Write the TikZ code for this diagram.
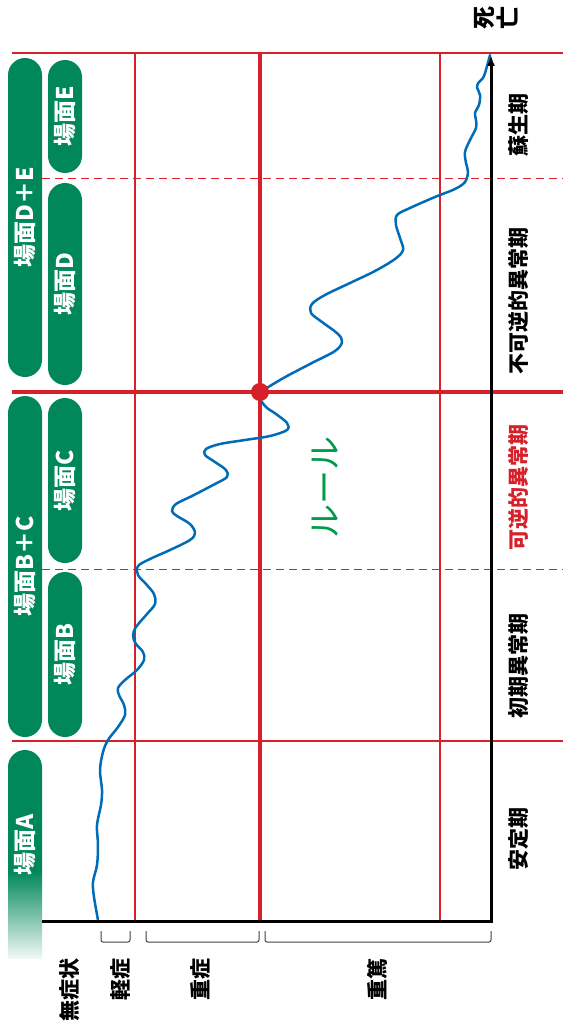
\documentclass[tikz,border=0pt]{standalone}
\usepackage{fontspec}
\setmainfont{Noto Sans CJK JP}
\usetikzlibrary{arrows.meta}
\definecolor{sgreen}{RGB}{0,135,90}
\definecolor{gred}{RGB}{214,32,42}
\definecolor{cblue}{RGB}{0,108,184}
\definecolor{rgreen}{RGB}{0,155,72}
\begin{document}
\begin{tikzpicture}[x=1pt,y=-1pt,
  pill/.style={fill=sgreen, rounded corners=17pt, minimum height=34pt, inner sep=0pt, text=white, font=\fontsize{23}{23}\selectfont\bfseries, rotate=90},
  lab/.style={rotate=90, font=\fontsize{21}{21}\selectfont\bfseries, inner sep=0pt},
  thinr/.style={gred, line width=1.2pt},
  thickr/.style={gred, line width=4pt},
  dashr/.style={gred, line width=1pt, dash pattern=on 8pt off 5pt},
  brk/.style={draw=black!75, line width=1pt, rounded corners=2pt}]
\useasboundingbox (0,0) rectangle (563,1027);
\fill[white] (0,0) rectangle (563,1027);
% grid
\draw[thinr] (12,53) -- (563,53);
\draw[dashr] (42,179) -- (563,179);
\draw[dashr] (42,569) -- (563,569);
\draw[thinr] (12,741) -- (563,741);
\draw[thinr] (135,53) -- (135,921);
\draw[thinr] (440,53) -- (440,921);
\draw[thickr] (260,53) -- (260,921);
\draw[thickr] (12,392) -- (563,392);
% pills
\node[pill, minimum width=319pt] (de) at (25,217.5) {場面D＋E};
\node[pill, minimum width=113pt] (e) at (65,116.5) {場面E};
\node[pill, minimum width=202pt] (d) at (65,284) {場面D};
\node[pill, minimum width=341pt] (bc) at (25,566.5) {場面B＋C};
\node[pill, minimum width=165pt] (c) at (65,480.5) {場面C};
\node[pill, minimum width=165pt] (b) at (65,654.5) {場面B};
\fill[sgreen] (8,872) [rounded corners=17pt] -- (8,750) -- (42,750) [sharp corners] -- (42,872) -- cycle;
\shade[top color=sgreen, bottom color=sgreen!6] (8,871) rectangle (42,958);
\node[text=white, font=\fontsize{23}{23}\selectfont\bfseries, rotate=90, inner sep=0pt] (a) at (25,845) {場面A};
% curve
\draw[cblue, line width=2.5pt, line join=round, line cap=round] plot[smooth, tension=0.55] coordinates {
(98,920) (94,897) (93,882) (97,865) (98,845) (97,825) (101,805) (102,790) (100,770) (103,752) (108,740) (118,727) (125,715) (124,705) (119,695) (118,688) (125,680) (137,670) (144,660) (143,652) (136,644) (133,636) (136,627) (147,614) (155,604) (154,594) (146,584) (138,575) (138,566) (150,559) (170,550) (190,540) (195,533) (190,524) (177,516) (172,511) (176,504) (192,496) (215,484) (227,477) (226,470) (215,462) (205,455) (206,449) (220,444) (245,440) (270,436) (287,430) (287,423) (276,414) (265,406) (260,394) (280,380) (310,364) (335,351) (342,342) (338,334) (322,322) (311,313) (312,304) (325,295) (350,283) (375,271) (395,259) (403,250) (400,238) (396,225) (397,215) (410,208) (435,197) (455,189) (465,182) (468,172) (466,163) (465,152) (470,140) (476,128) (476,120) (475,113) (479,105) (480,95) (477,87) (479,82) (484,76) (490,55)};
\node[circle, fill=gred, minimum size=18pt, inner sep=0pt] (pt) at (260,392) {};
% axes
\coordinate (o) at (42,921);
\coordinate (c0) at (491,921);
\coordinate (yt) at (491,55);
\draw[line width=3pt, line join=miter, -{Latex[length=11pt,width=8pt]}] (o) -- (c0) -- (yt);
% brackets
\draw[brk] (101,931) -- (101,942) -- (130,942) -- (130,931);
\draw[brk] (146,931) -- (146,942) -- (259,942) -- (259,931);
\draw[brk] (265,931) -- (265,942) -- (491,942) -- (491,931);
% right labels
\node[lab] (l1) at (519,125) {蘇生期};
\node[lab] (l2) at (519,301) {不可逆的異常期};
\node[lab, text=gred] (l3) at (519,487) {可逆的異常期};
\node[lab] (l4) at (519,666) {初期異常期};
\node[lab] (l5) at (519,839) {安定期};
% bottom labels
\node[lab, anchor=east] (s1) at (70,958) {無症状};
\node[lab, anchor=east] (s2) at (120,958) {軽症};
\node[lab, anchor=east] (s3) at (200,958) {重症};
\node[lab, anchor=east] (s4) at (377,958) {重篤};
% top
\node[lab, font=\fontsize{23}{23}\selectfont\bfseries] (death1) at (484,18) {死};
\node[lab, font=\fontsize{23}{23}\selectfont\bfseries] (death2) at (507,18) {亡};
% rule
\node[rotate=90, text=rgreen, font=\fontsize{34}{34}\selectfont, inner sep=0pt] (rule) at (325,487) {ルール};
\end{tikzpicture}
\end{document}
